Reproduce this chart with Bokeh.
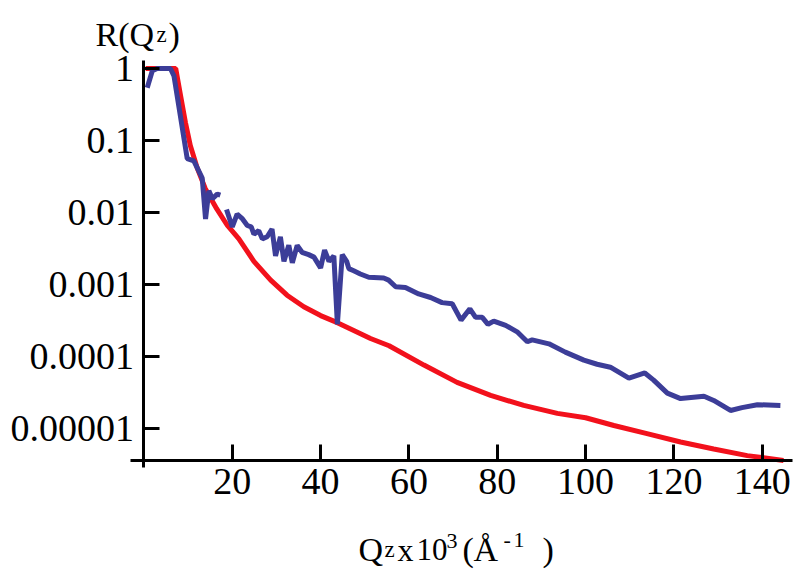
from bokeh.plotting import figure
from bokeh.models import Range1d, FixedTicker, CustomJSTickFormatter, Label
from bokeh.embed import file_html
from bokeh.resources import INLINE

# ---- data ----
blue_q1 = [0.75, 1.9, 3.0, 6.0, 6.8, 9.8, 11.3, 13.2, 13.95, 14.7, 15.5, 16.6, 17.3]
blue_r1 = [0.54, 0.93, 1.0, 1.0, 0.79, 0.056, 0.052, 0.030, 0.0081, 0.020, 0.0155, 0.018, 0.0174]

blue_q2 = [18.7, 20.0, 21.1, 22.2, 23.4, 24.3, 24.9, 26.0, 26.8, 27.9, 29.0, 29.8, 30.9, 31.7,
           32.8, 33.6, 34.7, 35.8, 37.3, 38.5, 40.0, 40.9, 41.9, 43.0, 43.8, 44.9, 45.9, 46.4,
           47.5, 49.0, 50.9, 54.3, 55.4, 57.0, 59.2, 62.2, 64.9, 67.5, 69.8, 71.8, 73.8, 75.1,
           76.6, 77.9, 79.2, 81.9, 84.5, 86.8, 87.9, 91.7, 95.4, 99.6, 102.6, 105.6, 109.8,
           113.4, 115.4, 118.5, 121.5, 126.8, 129.0, 132.8, 135.4, 138.9, 144.1]
blue_r2 = [0.011, 0.0063, 0.0095, 0.0083, 0.0066, 0.0063, 0.0050, 0.0056, 0.0043, 0.0046,
           0.0059, 0.0025, 0.0046, 0.0021, 0.0035, 0.0020, 0.0035, 0.0028, 0.0026, 0.0024,
           0.0017, 0.0030, 0.0021, 0.0025, 0.00028, 0.0026, 0.0021, 0.00166, 0.00155, 0.0014,
           0.00126, 0.00123, 0.00115, 0.00093, 0.00091, 0.00074, 0.00066, 0.00056, 0.00054,
           0.00032, 0.00046, 0.00035, 0.00035, 0.00028, 0.00031, 0.00027, 0.00022, 0.00016,
           0.00017, 0.00015, 0.000115, 0.000089, 0.000078, 0.000071, 0.00005, 0.000059,
           0.000047, 0.000031, 0.000026, 0.000028, 0.0000245, 0.0000178, 0.0000195,
           0.0000214, 0.0000209]

red_q = [0.4, 7.2, 8.3, 9.4, 10.5, 12.1, 13.9, 16.5, 18.9, 21.5, 24.9, 28.7, 32.4, 36.2, 40.0,
         43.8, 47.5, 51.3, 55.5, 63.4, 70.9, 78.5, 86.0, 93.6, 100.0, 106.4, 113.9, 121.5,
         129.0, 136.6, 144.8]
red_r = [1.0, 1.0, 0.42, 0.178, 0.085, 0.041, 0.0214, 0.0112, 0.0066, 0.0043, 0.0021, 0.00115,
         0.00071, 0.00049, 0.00037, 0.000295, 0.00023, 0.000178, 0.000141, 0.000076, 0.0000437,
         0.0000288, 0.0000209, 0.0000162, 0.0000141, 0.000011, 0.0000085, 0.0000065,
         0.0000052, 0.0000042, 0.0000036]

x_ticks = [20, 40, 60, 80, 100, 120, 140]
y_ticks = [1, 0.1, 0.01, 0.001, 0.0001, 0.00001]
y_tick_labels = ["1", "0.1", "0.01", "0.001", "0.0001", "0.00001"]

# axis extents (data units)
X_AXIS_AT = 3.6e-6      # level of the horizontal axis
Y_AXIS_AT = 0.0         # position of the vertical axis
X_BOUNDS = (-3.0, 146.8)
Y_BOUNDS = (2.9e-6, 1.29)

FONT = "Liberation Serif"
W, H = 800, 569

p = figure(width=W, height=H, y_axis_type="log",
           x_range=Range1d(-32.47, 148.65), y_range=Range1d(1.10e-7, 8.80),
           output_backend="svg", toolbar_location=None,
           min_border_left=0, min_border_right=0,
           min_border_top=0, min_border_bottom=0)
p.outline_line_color = None
p.xgrid.visible = False
p.ygrid.visible = False
p.background_fill_color = "white"
p.border_fill_color = "white"

p.line(red_q, red_r, line_color="#f2111c", line_width=5)
p.line(blue_q1, blue_r1, line_color="#3c3d98", line_width=5)
p.line(blue_q2, blue_r2, line_color="#3c3d98", line_width=5)

for ax in (p.xaxis[0], p.yaxis[0]):
    ax.axis_line_width = 3
    ax.axis_line_color = "black"
    ax.major_tick_line_width = 3
    ax.major_tick_line_color = "black"
    ax.major_tick_out = 0
    ax.major_tick_in = 16
    ax.minor_tick_line_color = None
    ax.major_label_text_font = FONT
    ax.major_label_text_font_size = "38px"
    ax.major_label_text_color = "black"

p.xaxis[0].ticker = FixedTicker(ticks=x_ticks)
p.xaxis[0].major_label_standoff = 9
p.xaxis[0].fixed_location = X_AXIS_AT
p.xaxis[0].bounds = X_BOUNDS
p.yaxis[0].ticker = FixedTicker(ticks=y_ticks)
p.yaxis[0].major_label_standoff = 10
p.yaxis[0].fixed_location = Y_AXIS_AT
p.yaxis[0].bounds = Y_BOUNDS
p.yaxis[0].formatter = CustomJSTickFormatter(
    args=dict(labels=y_tick_labels),
    code="return labels[Math.round(-Math.log10(tick))];")

def lab(text, px, py, size):
    # px, py: pixel position (from top-left) of the text start / baseline
    p.add_layout(Label(x=px, y=H - py, x_units="screen", y_units="screen",
                       text=text, text_font=FONT, text_font_size=size,
                       text_baseline="alphabetic", text_align="left",
                       text_color="black"))

# y-axis title R(Q_z)
lab("R(Q", 95, 34, "34px")
lab("z", 156, 34, "23px")
lab(")", 168, 34, "34px")

# x-axis title Q_z x 10^3 (Å^-1)
lab("Q", 358, 549, "34px")
lab("z", 384, 549, "23px")
lab("x", 397, 549, "32px")
lab("10", 416, 549, "31px")
lab("3", 446, 540, "22px")
lab("(", 462, 549, "34px")
lab("Å", 473, 549, "34px")
lab("-", 503, 539, "22px")
lab("1", 513, 539, "22px")
lab(")", 542, 549, "34px")

open("out.html", "w").write(file_html(p, INLINE))
